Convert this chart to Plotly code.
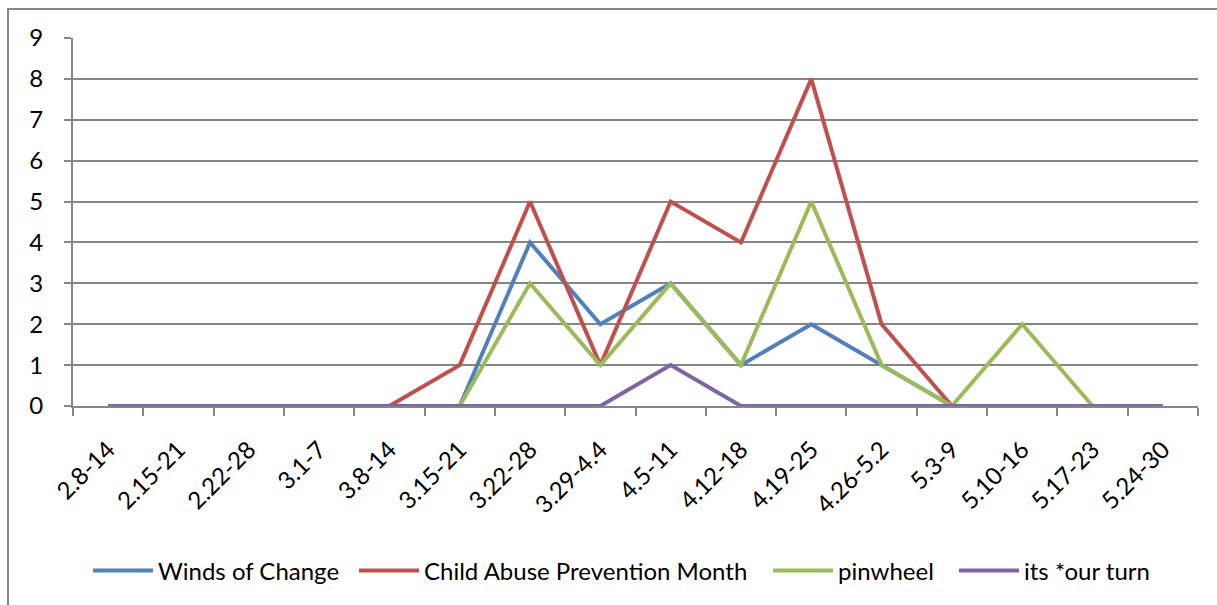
import plotly.graph_objects as go

categories = ["2.8-14", "2.15-21", "2.22-28", "3.1-7", "3.8-14", "3.15-21", "3.22-28",
              "3.29-4.4", "4.5-11", "4.12-18", "4.19-25", "4.26-5.2", "5.3-9",
              "5.10-16", "5.17-23", "5.24-30"]
winds_of_change = [0, 0, 0, 0, 0, 0, 4, 2, 3, 1, 2, 1, 0, 0, 0, 0]
child_abuse = [0, 0, 0, 0, 0, 1, 5, 1, 5, 4, 8, 2, 0, 0, 0, 0]
pinwheel = [0, 0, 0, 0, 0, 0, 3, 1, 3, 1, 5, 1, 0, 2, 0, 0]
our_turn = [0, 0, 0, 0, 0, 0, 0, 0, 1, 0, 0, 0, 0, 0, 0, 0]
y_ticks = list(range(0, 10))

series = [
    ("Winds of Change", winds_of_change, "#4F81BD"),
    ("Child Abuse Prevention Month", child_abuse, "#C0504D"),
    ("pinwheel", pinwheel, "#9BBB59"),
    ("its *our turn", our_turn, "#8064A2"),
]
# left edge (px) of each legend entry's line sample
legend_starts = [93, 359, 773, 959]

FONT = "Lato, 'Liberation Sans', sans-serif"
GRID = "#868686"

L, R, T, B = 73, 19, 38, 199
W, H = 1217, 605
pw, ph = W - L - R, H - T - B

def px_x(p):
    return (p - L) / pw

def px_y(p):
    return (H - B - p) / ph

fig = go.Figure()
legend_layout = {}
for i, (name, vals, color) in enumerate(series):
    key = "legend" if i == 0 else f"legend{i + 1}"
    fig.add_trace(go.Scatter(x=categories, y=vals, name=name, mode="lines",
                             line=dict(color=color, width=4), legend=key))
    legend_layout[key] = dict(
        orientation="h", x=px_x(legend_starts[i] - 5), xanchor="left",
        y=px_y(571), yanchor="middle", itemwidth=60,
        font=dict(family=FONT, size=24, color="black"),
        bgcolor="rgba(0,0,0,0)", borderwidth=0)

fig.add_shape(type="rect", xref="paper", yref="paper",
              x0=px_x(8), x1=px_x(1225), y0=px_y(612), y1=px_y(9),
              line=dict(color=GRID, width=2), fillcolor="rgba(0,0,0,0)", layer="below")

fig.update_layout(
    width=W, height=H,
    margin=dict(l=L, r=R, t=T, b=B),
    paper_bgcolor="white", plot_bgcolor="white",
    font=dict(family=FONT, size=24, color="black"),
    showlegend=True,
    xaxis=dict(type="category", range=[-0.5, 15.5], tickson="boundaries",
               ticks="outside", ticklen=8, tickcolor=GRID, tickwidth=2,
               showline=True, linecolor=GRID, linewidth=2, showgrid=False,
               tickangle=-45, ticklabelstandoff=18, zeroline=False,
               tickfont=dict(family=FONT, size=24)),
    yaxis=dict(range=[0, 9], tickvals=y_ticks, ticks="outside", ticklen=7,
               tickcolor=GRID, tickwidth=2, showline=True, linecolor=GRID, linewidth=2,
               showgrid=True, gridcolor=GRID, gridwidth=2, zeroline=False,
               ticklabelstandoff=16, tickfont=dict(family=FONT, size=24)),
    **legend_layout,
)

fig.write_html("out.html")
